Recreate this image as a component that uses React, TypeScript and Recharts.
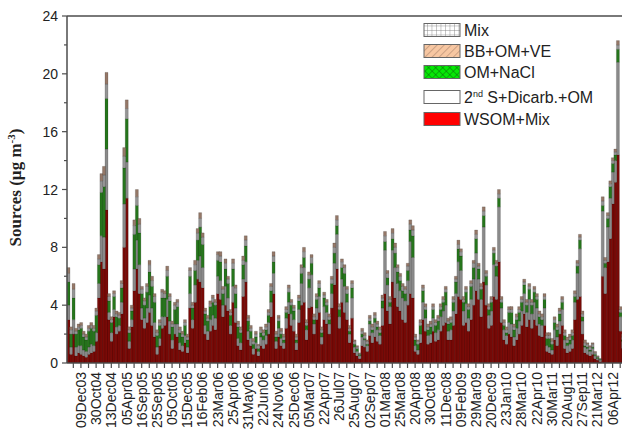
import React from 'react';
import { BarChart, Bar, XAxis, YAxis, Legend, ReferenceLine } from 'recharts';

// sampling dates shown on the x axis (every 6th sample)
const tickLabels = [
  '09Dec03', '30Oct04', '13Dec04', '05Apr05', '16Sep05', '25Sep05', '05Oct05', '15Dec05', '16Feb06',
  '23Mar06', '25Apr06', '31May06', '22Jun06', '24Nov06', '25Dec06', '05Mar07', '22Apr07', '26Jul07',
  '25Aug07', '02Sep07', '01Mar08', '25Mar08', '20Apr08', '30Oct08', '11Dec08', '09Feb09', '29Mar09',
  '20Dec09', '23Jan10', '28Mar10', '22Apr10', '30Mar11', '20Aug11', '27Sep11', '21Mar12', '06Apr12',
];
const firstLabelSample = 5;
const samplesPerLabel = 6;
const samplesPerTick = 3;

const yTicks = [0, 2, 4, 6, 8, 10, 12, 14, 16, 18, 20, 22, 24];

// source contributions, ug m-3, one value per sample
const wsomMix = [
  3.0, 0.6, 2.0, 0.5, 0.7, 0.6, 0.5, 0.4, 0.6, 0.7,
  0.8, 1.5, 4.5, 7.0, 6.5, 10.6, 3.0, 1.5, 3.2, 2.0,
  2.2, 3.4, 8.0, 11.4, 1.0, 2.5, 5.0, 6.5, 4.8, 3.0,
  2.4, 2.8, 3.5, 2.6, 1.8, 0.6, 1.2, 2.4, 2.6, 3.2,
  2.0, 1.0, 2.0, 1.8, 0.9, 0.8, 1.4, 0.7, 3.8, 2.4,
  4.2, 5.8, 5.6, 5.2, 2.0, 1.6, 2.2, 2.6, 2.3, 4.8,
  4.4, 3.2, 4.0, 3.6, 2.0, 4.2, 2.8, 1.2, 0.9, 4.6,
  5.6, 1.6, 1.2, 0.6, 1.0,
  0.5, 1.2, 1.0, 1.3, 2.0, 3.2, 4.8, 1.0, 1.8, 1.2,
  1.0, 2.4, 3.4, 2.6, 2.2, 0.9, 2.8, 4.0, 4.2, 1.6,
  3.8, 3.9, 2.0, 3.0, 3.5, 1.3, 3.0, 2.7, 2.0, 3.8,
  5.4, 6.5, 2.4, 4.2, 3.5, 3.0, 1.4, 3.1, 0.7, 0.5,
  0.3, 1.2, 1.1, 0.8, 1.9, 1.4, 1.8, 1.5, 1.3, 2.6,
  4.8, 3.6, 2.7, 5.6, 4.5, 3.9, 3.6, 3.0, 2.8, 4.0,
  4.8, 4.5, 0.8, 0.6, 1.4, 3.0, 2.2, 1.3, 1.4, 2.2,
  1.5, 1.6,
  2.2, 2.6, 2.8, 1.6, 1.6, 2.6, 3.4, 4.6, 4.4, 2.6,
  2.8, 2.2, 3.0, 4.0, 5.0, 4.4, 3.2, 5.6, 4.0, 2.4,
  2.6, 4.6, 4.4, 7.0, 2.8, 1.6, 1.3, 2.0, 1.8, 1.2,
  1.6, 2.0, 2.6, 3.4, 2.5, 3.0, 2.4, 3.0, 2.6, 1.9,
  1.8, 2.6, 0.8, 0.7, 0.6, 1.6, 1.2, 2.0, 2.6, 1.0,
  0.7, 0.8, 1.0, 3.0, 4.4, 4.6, 2.0, 0.7, 0.6, 0.5,
  0.6, 0.3, 0.2, 0.1, 6.0, 4.8, 7.0, 8.6, 11.0, 12.5,
  14.4, 2.2, 1.0,
];

const secondSDicarbOm = [
  1.0, 0.5, 1.0, 0.6, 0.5, 0.6, 0.4, 0.4, 0.5, 0.6,
  0.4, 0.6, 1.0, 1.8, 2.2, 4.2, 0.5, 0.6, 0.5, 0.5,
  0.4, 0.8, 3.0, 2.5, 0.5, 0.5, 1.5, 2.0, 2.0, 0.8,
  0.7, 1.0, 1.2, 1.2, 1.0, 0.5, 0.5, 0.8, 0.6, 1.2,
  0.9, 0.6, 0.7, 0.9, 0.5, 0.4, 0.5, 0.4, 1.0, 0.6,
  1.2, 1.3, 1.8, 1.4, 0.6, 0.6, 0.8, 0.7, 0.8, 1.2,
  1.3, 0.8, 1.3, 0.9, 0.6, 1.1, 1.0, 0.5, 0.5, 1.2,
  1.4, 0.6, 0.5, 0.4, 0.4,
  0.3, 0.6, 0.6, 0.6, 0.8, 1.0, 1.4, 0.5, 0.6, 0.5,
  0.4, 0.7, 0.8, 0.8, 0.8, 0.5, 0.9, 1.5, 2.4, 0.7,
  1.4, 2.2, 0.7, 0.8, 1.1, 0.5, 0.9, 0.8, 0.7, 1.0,
  1.5, 2.4, 0.8, 1.6, 1.8, 1.2, 0.6, 1.4, 0.4, 0.3,
  0.2, 0.6, 0.5, 0.4, 0.8, 0.7, 1.0, 0.8, 0.6, 1.2,
  3.0, 1.8, 1.2, 2.2, 2.1, 1.6, 1.4, 1.5, 1.5, 1.7,
  3.6, 2.8, 0.4, 0.3, 0.6, 1.2, 0.9, 0.6, 0.6, 0.9,
  0.6, 0.7,
  1.0, 1.0, 1.2, 0.6, 0.7, 1.0, 1.4, 2.4, 2.0, 1.0,
  1.3, 0.9, 1.4, 1.8, 2.6, 1.4, 1.2, 3.8, 1.4, 0.9,
  1.0, 2.2, 1.6, 3.8, 1.0, 0.7, 0.6, 0.8, 0.9, 0.6,
  0.8, 0.9, 1.0, 1.4, 1.0, 1.4, 1.0, 1.2, 1.2, 0.8,
  0.8, 1.2, 0.4, 0.4, 0.3, 0.7, 0.6, 0.9, 1.1, 0.6,
  0.5, 0.5, 0.6, 1.2, 1.8, 3.3, 0.9, 0.4, 0.4, 0.3,
  0.4, 0.2, 0.1, 0.1, 4.5, 1.8, 2.4, 2.8, 2.2, 1.5,
  6.4, 1.0, 0.5,
];

const omNaCl = [
  1.6, 0.9, 1.5, 0.9, 1.1, 1.2, 0.9, 0.8, 1.1, 1.1,
  1.0, 1.2, 1.3, 3.0, 3.5, 3.5, 0.8, 0.7, 0.9, 0.7,
  0.5, 1.0, 2.5, 3.0, 0.6, 0.6, 2.4, 2.4, 2.2, 1.0,
  0.9, 1.1, 1.6, 1.5, 1.4, 0.8, 0.9, 1.3, 1.3, 1.6,
  1.4, 0.9, 1.0, 1.2, 0.7, 0.6, 0.7, 0.5, 1.2, 0.8,
  1.0, 1.4, 2.0, 1.6, 0.8, 0.7, 0.9, 0.9, 0.9, 1.1,
  1.3, 0.8, 1.2, 1.0, 0.7, 1.2, 1.0, 0.8, 0.7, 1.0,
  1.1, 0.7, 0.5, 0.3, 0.4,
  0.2, 0.3, 0.3, 0.4, 0.5, 0.8, 0.8, 0.3, 0.5, 0.3,
  0.2, 0.4, 0.7, 0.6, 0.6, 0.2, 0.6, 0.7, 0.7, 0.3,
  0.6, 0.8, 0.3, 0.6, 0.6, 0.3, 0.6, 0.5, 0.3, 0.7,
  0.7, 0.6, 0.5, 0.8, 0.9, 0.6, 0.2, 0.7, 0.2, 0.2,
  0.1, 0.2, 0.1, 0.1, 0.2, 0.2, 0.3, 0.2, 0.2, 0.5,
  0.6, 0.5, 0.3, 0.8, 1.0, 0.8, 0.7, 0.5, 0.5, 0.7,
  0.8, 1.5, 0.4, 0.4, 0.6, 0.8, 0.6, 0.4, 0.5, 0.6,
  0.5, 0.6,
  0.5, 0.6, 0.9, 0.5, 0.5, 0.6, 0.8, 0.9, 1.0, 0.6,
  0.8, 0.6, 0.9, 0.8, 1.0, 0.7, 0.7, 0.8, 0.6, 0.4,
  0.6, 0.8, 0.7, 0.6, 0.4, 0.3, 0.2, 0.7, 0.8, 0.5,
  0.6, 0.6, 0.6, 0.6, 0.5, 0.7, 0.6, 0.7, 0.6, 0.5,
  0.4, 0.6, 0.5, 0.6, 0.4, 0.5, 0.5, 0.5, 0.5, 0.3,
  0.2, 0.3, 0.3, 0.4, 0.5, 0.6, 0.3, 0.1, 0.1, 0.1,
  0.1, 0.1, 0.1, 0.05, 0.4, 0.3, 0.6, 0.8, 0.6, 0.4,
  0.9, 0.3, 0.1,
];

const mix = [
  0.6, 0.3, 0.6, 0.2, 0.2, 0.2, 0.2, 0.2, 0.2, 0.2,
  0.2, 0.3, 0.4, 0.8, 0.8, 1.0, 0.3, 0.2, 0.2, 0.2,
  0.2, 0.3, 0.8, 0.7, 0.2, 0.2, 0.6, 0.6, 0.6, 0.3,
  0.3, 0.4, 0.5, 0.4, 0.4, 0.2, 0.2, 0.4, 0.3, 0.4,
  0.3, 0.2, 0.3, 0.3, 0.2, 0.2, 0.2, 0.2, 0.4, 0.2,
  0.4, 0.5, 0.6, 0.5, 0.2, 0.2, 0.2, 0.3, 0.2, 0.4,
  0.4, 0.3, 0.4, 0.3, 0.2, 0.4, 0.4, 0.2, 0.2, 0.3,
  0.4, 0.2, 0.2, 0.2, 0.2,
  0.2, 0.2, 0.2, 0.2, 0.2, 0.3, 0.4, 0.2, 0.2, 0.2,
  0.2, 0.2, 0.3, 0.2, 0.2, 0.2, 0.2, 0.4, 0.4, 0.2,
  0.3, 0.4, 0.2, 0.2, 0.3, 0.2, 0.2, 0.2, 0.2, 0.3,
  0.4, 0.4, 0.2, 0.4, 0.4, 0.3, 0.2, 0.3, 0.2, 0.1,
  0.05, 0.2, 0.2, 0.2, 0.2, 0.2, 0.2, 0.2, 0.2, 0.2,
  0.4, 0.3, 0.2, 0.4, 0.4, 0.3, 0.3, 0.3, 0.3, 0.3,
  0.4, 0.4, 0.2, 0.2, 0.2, 0.2, 0.2, 0.2, 0.2, 0.2,
  0.2, 0.2,
  0.2, 0.2, 0.2, 0.2, 0.2, 0.2, 0.2, 0.3, 0.3, 0.2,
  0.2, 0.2, 0.2, 0.3, 0.3, 0.2, 0.2, 0.3, 0.2, 0.2,
  0.2, 0.2, 0.2, 0.3, 0.2, 0.2, 0.2, 0.2, 0.2, 0.2,
  0.2, 0.2, 0.2, 0.2, 0.2, 0.2, 0.2, 0.2, 0.2, 0.2,
  0.2, 0.2, 0.2, 0.2, 0.2, 0.2, 0.2, 0.2, 0.2, 0.2,
  0.2, 0.2, 0.2, 0.2, 0.2, 0.2, 0.2, 0.2, 0.2, 0.2,
  0.2, 0.1, 0.05, 0.03, 0.3, 0.2, 0.2, 0.2, 0.2, 0.2,
  0.3, 0.2, 0.2,
];

const bbOmVe = [
  0.4, 0.2, 0.4, 0.2, 0.2, 0.2, 0.2, 0.2, 0.2, 0.2,
  0.2, 0.2, 0.3, 0.5, 0.6, 0.8, 0.2, 0.2, 0.2, 0.2,
  0.2, 0.2, 0.6, 0.6, 0.2, 0.2, 0.4, 0.5, 0.4, 0.2,
  0.2, 0.2, 0.3, 0.3, 0.2, 0.2, 0.2, 0.2, 0.2, 0.3,
  0.2, 0.2, 0.2, 0.2, 0.2, 0.2, 0.2, 0.2, 0.2, 0.2,
  0.3, 0.3, 0.4, 0.3, 0.2, 0.2, 0.2, 0.2, 0.2, 0.2,
  0.3, 0.2, 0.3, 0.2, 0.2, 0.3, 0.2, 0.2, 0.2, 0.3,
  0.3, 0.2, 0.2, 0.2, 0.2,
  0.1, 0.2, 0.2, 0.2, 0.2, 0.2, 0.3, 0.2, 0.2, 0.2,
  0.2, 0.2, 0.2, 0.2, 0.2, 0.2, 0.2, 0.2, 0.3, 0.2,
  0.2, 0.2, 0.2, 0.2, 0.2, 0.2, 0.2, 0.2, 0.2, 0.2,
  0.3, 0.3, 0.2, 0.2, 0.2, 0.2, 0.2, 0.2, 0.1, 0.1,
  0.05, 0.2, 0.2, 0.1, 0.2, 0.2, 0.2, 0.2, 0.2, 0.2,
  0.3, 0.2, 0.2, 0.3, 0.3, 0.2, 0.2, 0.2, 0.2, 0.2,
  0.3, 0.3, 0.2, 0.1, 0.2, 0.2, 0.2, 0.2, 0.2, 0.2,
  0.2, 0.2,
  0.2, 0.2, 0.2, 0.2, 0.2, 0.2, 0.2, 0.3, 0.2, 0.2,
  0.2, 0.2, 0.2, 0.2, 0.3, 0.2, 0.2, 0.3, 0.2, 0.2,
  0.2, 0.2, 0.2, 0.3, 0.2, 0.2, 0.2, 0.2, 0.2, 0.2,
  0.2, 0.2, 0.2, 0.2, 0.2, 0.2, 0.2, 0.2, 0.2, 0.2,
  0.2, 0.2, 0.2, 0.2, 0.2, 0.2, 0.2, 0.2, 0.2, 0.2,
  0.2, 0.2, 0.2, 0.2, 0.2, 0.2, 0.2, 0.2, 0.1, 0.1,
  0.1, 0.1, 0.05, 0.02, 0.3, 0.2, 0.2, 0.2, 0.2, 0.2,
  0.3, 0.2, 0.2,
];

const chartData = wsomMix.map((v, i) => ({
  id: i,
  wsom: v,
  second: secondSDicarbOm[i],
  omNaCl: omNaCl[i],
  mix: mix[i],
  bb: bbOmVe[i],
}));

// stacking order, bottom to top
const series = [
  { key: 'wsom', fill: '#7a0a07' },
  { key: 'second', fill: '#8a8a8a' },
  { key: 'omNaCl', fill: '#26761c' },
  { key: 'mix', fill: '#959595' },
  { key: 'bb', fill: '#957868' },
];

const axisColor = '#4d4d4d';
const sans = '"Liberation Sans", Arial, sans-serif';

const XTick = (props: any) => {
  const { x, y, payload } = props;
  const i = Number(payload.value);
  if (i % samplesPerTick !== firstLabelSample % samplesPerTick) return <g />;
  const hasLabel = i % samplesPerLabel === firstLabelSample;
  const label = hasLabel ? tickLabels[(i - firstLabelSample) / samplesPerLabel] : null;
  return (
    <g>
      <line x1={x} x2={x} y1={y} y2={y + 5} stroke={axisColor} strokeWidth={1.2} />
      {label && (
        <text
          x={x}
          y={y + 9}
          dy="0.36em"
          textAnchor="end"
          transform={`rotate(-90 ${x} ${y + 9})`}
          fontFamily={sans}
          fontSize={14}
          fill="#222"
        >
          {label}
        </text>
      )}
    </g>
  );
};

const YTick = (props: any) => {
  const { x, y, payload } = props;
  const v = Number(payload.value);
  const major = v % 4 === 0;
  return (
    <g>
      <line x1={x - (major ? 5 : 3)} x2={x} y1={y} y2={y} stroke={axisColor} strokeWidth={1.2} />
      {major && (
        <text x={x - 9} y={y} dy="0.36em" textAnchor="end" fontFamily={sans} fontSize={14} fill="#222">
          {v}
        </text>
      )}
    </g>
  );
};

const renderYLabel = (props: any) => {
  const vb = props.viewBox || {};
  const cx = vb.x + 21;
  const cy = vb.y + vb.height / 2 - 2;
  return (
    <text
      x={cx}
      y={cy}
      textAnchor="middle"
      transform={`rotate(-90 ${cx} ${cy})`}
      fontFamily='"Liberation Serif", "Times New Roman", serif'
      fontWeight="bold"
      fontSize={17}
      fill="#222"
    >
      Sources (µg m
      <tspan dy={-6} fontSize={11}>-3</tspan>
      <tspan dy={6}>)</tspan>
    </text>
  );
};

const legendItems = [
  { name: 'Mix', fill: 'url(#pMix)', y: 9 },
  { name: 'BB+OM+VE', fill: 'url(#pBB)', y: 30 },
  { name: 'OM+NaCl', fill: 'url(#pNaCl)', y: 51 },
  { name: '2nd', fill: '#ffffff', y: 76 },
  { name: 'WSOM+Mix', fill: '#ff0000', y: 98 },
];

const LegendBox = () => (
  <svg width={200} height={112} style={{ display: 'block' }}>
    <defs>
      <pattern id="pMix" width={4.5} height={4.5} patternUnits="userSpaceOnUse">
        <rect width={4.5} height={4.5} fill="#fff" />
        <path d="M0 0 H4.5 M0 0 V4.5" stroke="#777" strokeWidth={0.8} />
      </pattern>
      <pattern id="pBB" width={5} height={5} patternUnits="userSpaceOnUse" patternTransform="rotate(45)">
        <rect width={5} height={5} fill="#f7c7a2" />
        <path d="M0 0 V5" stroke="#8c6a55" strokeWidth={0.8} />
      </pattern>
      <pattern id="pNaCl" width={5} height={5} patternUnits="userSpaceOnUse" patternTransform="rotate(45)">
        <rect width={5} height={5} fill="#05e805" />
        <path d="M0 0 V5 M0 0 H5" stroke="#0d4d0d" strokeWidth={0.8} />
      </pattern>
    </defs>
    {legendItems.map((it) => (
      <g key={it.name}>
        <rect x={6} y={it.y - 6.5} width={36} height={13} fill={it.fill} stroke="#666" strokeWidth={1} />
        {it.name === '2nd' ? (
          <text x={46} y={it.y} dy="0.36em" fontFamily={sans} fontSize={16} fill="#222">
            2<tspan dy={-6} fontSize={9}>nd</tspan>
            <tspan dy={6}> S+Dicarb.+OM</tspan>
          </text>
        ) : (
          <text x={46} y={it.y} dy="0.36em" fontFamily={sans} fontSize={16} fill="#222">
            {it.name}
          </text>
        )}
      </g>
    ))}
  </svg>
);

export default function App() {
  return (
    <div
      style={{
        position: 'absolute',
        left: 0,
        top: 0,
        width: 622,
        height: 433,
        overflow: 'hidden',
        background: '#fff',
      }}
    >
      <BarChart
        width={630}
        height={433}
        data={chartData}
        margin={{ top: 16, right: 6, left: 0, bottom: 0 }}
        barCategoryGap={0}
        barGap={0}
      >
        <XAxis
          dataKey="id"
          type="category"
          interval={0}
          height={70}
          tickSize={0}
          tickMargin={0}
          tickLine={false}
          tick={<XTick />}
          axisLine={{ stroke: axisColor, strokeWidth: 1.5 }}
        />
        <YAxis
          type="number"
          domain={[0, 24]}
          ticks={yTicks}
          interval={0}
          width={67}
          tickSize={0}
          tickMargin={0}
          tickLine={false}
          tick={<YTick />}
          axisLine={{ stroke: axisColor, strokeWidth: 1.5 }}
          allowDataOverflow
          label={{ content: renderYLabel }}
        />
        <ReferenceLine y={24} stroke={axisColor} strokeWidth={1.5} />
        <Legend
          layout="vertical"
          align="center"
          verticalAlign="middle"
          wrapperStyle={{ top: 21, left: 418, width: 200, height: 112 }}
          content={<LegendBox />}
        />
        {series.map((s) => (
          <Bar
            key={s.key}
            dataKey={s.key}
            stackId="src"
            fill={s.fill}
            stroke="rgba(0,0,0,0.45)"
            strokeWidth={0.35}
            isAnimationActive={false}
          />
        ))}
      </BarChart>
    </div>
  );
}
